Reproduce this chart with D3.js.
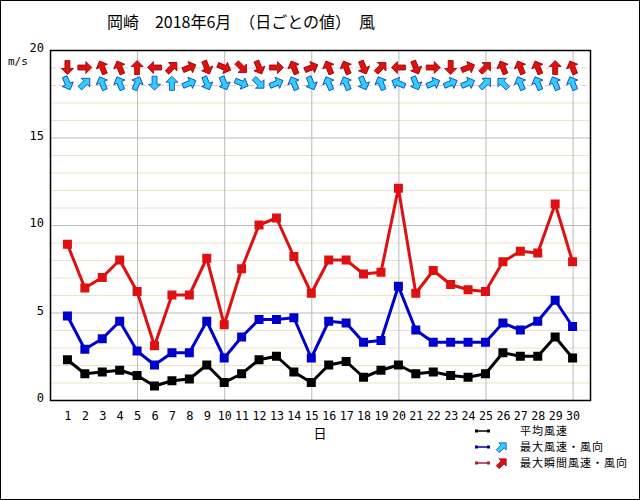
<!DOCTYPE html>
<html>
<head>
<meta charset="utf-8">
<script src="https://cdn.jsdelivr.net/npm/d3@7"></script>
<style>
  body { margin: 0; background: #fff; }
  text { font-family: "Noto Sans CJK JP", "DejaVu Sans", sans-serif; }
</style>
</head>
<body>
<svg class="chart"></svg>
<script>
var days = d3.range(1, 31);
var avgSpeed = [2.3, 1.5, 1.6, 1.7, 1.4, 0.8, 1.1, 1.2, 2.0, 1.0, 1.5, 2.3, 2.5, 1.6, 1.0,
  2.0, 2.2, 1.3, 1.7, 2.0, 1.5, 1.6, 1.4, 1.3, 1.5, 2.7, 2.5, 2.5, 3.6, 2.4];
var maxSpeed = [4.8, 2.9, 3.5, 4.5, 2.8, 2.0, 2.7, 2.7, 4.5, 2.4, 3.6, 4.6, 4.6, 4.7, 2.4,
  4.5, 4.4, 3.3, 3.4, 6.5, 4.0, 3.3, 3.3, 3.3, 3.3, 4.4, 4.0, 4.5, 5.7, 4.2];
var gustSpeed = [8.9, 6.4, 7.0, 8.0, 6.2, 3.1, 6.0, 6.0, 8.1, 4.3, 7.5, 10.0, 10.4, 8.2, 6.1,
  8.0, 8.0, 7.2, 7.3, 12.1, 6.1, 7.4, 6.6, 6.3, 6.2, 7.9, 8.5, 8.4, 11.2, 7.9];
// wind direction (where the wind comes from)
var maxDir = ["北北西", "南西", "南南東", "南南東", "南南西", "北", "南", "西南西", "北北西", "北北西",
  "西北西", "北西", "西南西", "南南東", "北北西", "南南東", "南南東", "北北西", "南南東", "東南東",
  "北北西", "西南西", "西南西", "西南西", "南西", "南東", "南南東", "南南東", "南南東", "南南東"];
var gustDir = ["北", "西", "南南東", "南南東", "南", "東", "南西", "西南西", "北北西", "西北西",
  "北西", "北北西", "西", "南南東", "西南西", "南南東", "南南東", "北北西", "南西", "東",
  "北北西", "西", "北", "西南西", "南西", "南南東", "南南東", "南南東", "南", "南南東"];
var yTicks = [0, 5, 10, 15, 20];
var compass = ["北", "北北東", "北東", "東北東", "東", "東南東", "南東", "南南東",
  "南", "南南西", "南西", "西南西", "西", "西北西", "北西", "北北西"];
var legendLabels = ["平均風速", "最大風速・風向", "最大瞬間風速・風向"];

var W = 640, H = 500;
var margin = {top: 50, right: 50, bottom: 100, left: 50},
  width = W - margin.left - margin.right,
  height = H - margin.top - margin.bottom;

var x = d3.scaleLinear().domain([0, 31]).range([0, width]);
var y = d3.scaleLinear().domain([0, 20]).range([height, 0]);

var svg = d3.select(".chart").attr("width", W).attr("height", H);

svg.append("rect")
  .attr("x", 0.5).attr("y", 0.5)
  .attr("width", W - 1).attr("height", H - 1)
  .attr("fill", "#fff").attr("stroke", "#000");

svg.append("text")
  .attr("x", 241).attr("y", 28)
  .attr("text-anchor", "middle")
  .style("font-size", "16px")
  .text("岡崎　2018年6月　（日ごとの値）　風");

var chart = svg.append("g")
  .attr("transform", "translate(" + margin.left + "," + margin.top + ")");

// minor gridlines every 1 m/s
chart.append("g")
  .selectAll("line")
  .data(d3.range(1, 20).filter(function(v) { return v % 5 != 0; }))
  .enter().append("line")
  .attr("x1", 0).attr("x2", width)
  .attr("y1", function(d) { return y(d) + 0.5; })
  .attr("y2", function(d) { return y(d) + 0.5; })
  .attr("stroke", function(d) { return d >= 18 ? "#e8cccc" : "#eee2c8"; })
  .attr("stroke-dasharray", function(d) { return d >= 18 ? "6,3" : null; });

// major gridlines
chart.append("g")
  .attr("class", "grid")
  .call(d3.axisLeft(y).tickValues([5, 10, 15]).tickSize(-width).tickFormat(""))
  .call(function(g) {
    g.select(".domain").remove();
    g.selectAll("line").attr("stroke", "#bbbbbb");
  });

chart.append("g")
  .attr("class", "grid")
  .attr("transform", "translate(0," + height + ")")
  .call(d3.axisBottom(x).tickValues([5, 10, 15, 20, 25, 30]).tickSize(-height).tickFormat(""))
  .call(function(g) {
    g.select(".domain").remove();
    g.selectAll("line").attr("stroke", "#bbbbbb");
  });

chart.append("rect")
  .attr("x", 0.5).attr("y", 0.5)
  .attr("width", width).attr("height", height)
  .attr("fill", "none").attr("stroke", "#000").attr("stroke-width", 1.5);

// axes labels
chart.append("g")
  .call(d3.axisLeft(y).tickValues(yTicks).tickSize(0).tickPadding(6))
  .call(function(g) {
    g.select(".domain").remove();
    g.selectAll("text")
      .attr("dy", "0.15em")
      .style("font-size", "12px")
      .style("font-family", "DejaVu Sans Mono, monospace");
  });

chart.append("g")
  .attr("transform", "translate(0," + height + ")")
  .call(d3.axisBottom(x).tickValues(days).tickSize(0).tickPadding(11))
  .call(function(g) {
    g.select(".domain").remove();
    g.selectAll("text")
      .style("font-size", "12px")
      .style("font-family", "DejaVu Sans Mono, monospace")
      .attr("textLength", function(d) { return d >= 10 ? 14 : null; })
      .attr("lengthAdjust", "spacingAndGlyphs");
  });

svg.append("text")
  .attr("x", 8).attr("y", 65)
  .style("font-size", "11px")
  .style("font-family", "DejaVu Sans Mono, monospace")
  .text("m/s");

chart.append("text")
  .attr("x", x(15.5)).attr("y", height + 38)
  .attr("text-anchor", "middle")
  .style("font-size", "13px")
  .text("日");

// series
var series = [
  {values: avgSpeed, color: "#000000"},
  {values: maxSpeed, color: "#0000cc"},
  {values: gustSpeed, color: "#dd1111"}
];

var line = d3.line()
  .x(function(d) { return x(d[0]); })
  .y(function(d) { return y(d[1]); });

series.forEach(function(s) {
  var pts = days.map(function(d, i) { return [d, s.values[i]]; });
  chart.append("path")
    .datum(pts)
    .attr("d", line)
    .attr("fill", "none")
    .attr("stroke", s.color)
    .attr("stroke-width", 3)
    .attr("stroke-linejoin", "round");
  chart.append("g")
    .selectAll("rect")
    .data(pts)
    .enter().append("rect")
    .attr("x", function(d) { return x(d[0]) - 4.5; })
    .attr("y", function(d) { return y(d[1]) - 4.5; })
    .attr("width", 9).attr("height", 9)
    .attr("fill", s.color);
});

// wind arrows
var arrowPath = "M0,-7 L6,-1 L2.5,-1 L2.5,7 L-2.5,7 L-2.5,-1 L-6,-1 Z";

function downwind(dir) {
  return (compass.indexOf(dir) * 22.5 + 180) % 360;
}

function drawArrows(dirs, yVal, fill, stroke) {
  chart.append("g")
    .selectAll("path")
    .data(dirs)
    .enter().append("path")
    .attr("d", arrowPath)
    .attr("transform", function(d, i) {
      return "translate(" + x(days[i]) + "," + y(yVal) + ") rotate(" + downwind(d) + ")";
    })
    .attr("fill", fill)
    .attr("stroke", stroke)
    .attr("stroke-width", 0.8)
    .attr("stroke-linejoin", "round");
}

drawArrows(gustDir, 19, "#dd1111", "#990000");
drawArrows(maxDir, 18.1, "#33ccff", "#0044bb");

// legend
var legend = svg.append("g").attr("transform", "translate(476,431)");
var legendColors = ["#000000", "#000099", "#aa2233"];
legendLabels.forEach(function(lbl, i) {
  var g = legend.append("g").attr("transform", "translate(0," + i * 16 + ")");
  g.append("line").attr("x1", 0).attr("x2", 13).attr("y1", 0).attr("y2", 0)
    .attr("stroke", legendColors[i]).attr("stroke-width", 1.5);
  g.append("rect").attr("x", -1).attr("y", -1.5).attr("width", 3).attr("height", 3).attr("fill", legendColors[i]);
  g.append("rect").attr("x", 11).attr("y", -1.5).attr("width", 3).attr("height", 3).attr("fill", legendColors[i]);
  if (i > 0) {
    g.append("path")
      .attr("d", arrowPath)
      .attr("transform", "translate(26,0) rotate(45) scale(0.85)")
      .attr("fill", i == 1 ? "#33ccff" : "#dd1111")
      .attr("stroke", i == 1 ? "#0044bb" : "#990000")
      .attr("stroke-width", 0.8);
  }
  g.append("text")
    .attr("x", 44).attr("y", 4)
    .style("font-size", "11px")
    .style("letter-spacing", "1px")
    .text(lbl);
});
</script>
</body>
</html>
